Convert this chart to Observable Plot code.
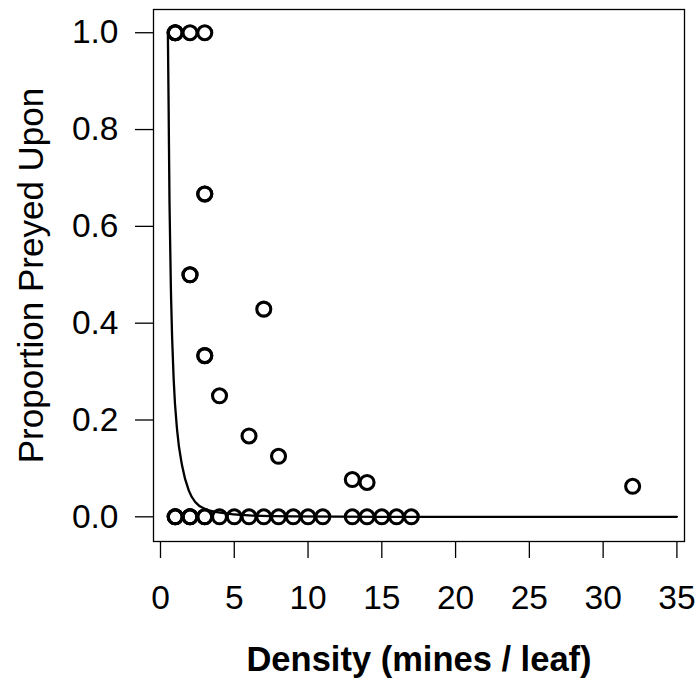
<!DOCTYPE html>
<html><head><meta charset="utf-8">
<script src="https://cdn.jsdelivr.net/npm/d3@7"></script>
<script src="https://cdn.jsdelivr.net/npm/@observablehq/plot@0.6"></script>
<style>body{margin:0;background:#fff;}</style>
</head><body><div id="chart"></div>
<script>
// Observed points: density (mines / leaf) and proportion preyed upon
const density = [1, 1, 1, 2, 3,
  3, 3, 2, 2, 7, 3, 3, 4, 6, 8, 13, 14, 32,
  1, 1, 1, 2, 2, 2, 3, 3, 4, 5, 6, 7, 8, 9, 10, 11, 13, 14, 15, 16, 17];
const proportion = [1, 1, 1, 1, 1,
  0.667, 0.667, 0.5, 0.5, 0.429, 0.333, 0.333, 0.25, 0.167, 0.125, 0.077, 0.071, 0.063,
  0, 0, 0, 0, 0, 0, 0, 0, 0, 0, 0, 0, 0, 0, 0, 0, 0, 0, 0, 0, 0];
// Fitted curve
const curveDensity = [0.5, 0.55, 0.61, 0.72, 0.9, 1.13, 1.47, 1.92, 2.37, 3.05, 4.18, 6, 9, 15, 35];
const curveProportion = [1.0, 0.85, 0.65, 0.45, 0.28, 0.178, 0.105, 0.054, 0.030, 0.016, 0.008, 0.003, 0.001, 0, 0];
const xTicks = [0, 5, 10, 15, 20, 25, 30, 35];
const yTicks = [0, 0.2, 0.4, 0.6, 0.8, 1.0];
const xLabel = "Density (mines / leaf)";
const yLabel = "Proportion Preyed Upon";

const points = density.map((d, i) => ({x: d, y: proportion[i]}));
const curve = curveDensity.map((d, i) => ({x: d, y: curveProportion[i]}));

const chart = Plot.plot({
  width: 699, height: 679,
  marginLeft: 153, marginRight: 15, marginTop: 9, marginBottom: 138,
  style: {fontFamily: "'Liberation Sans', Arial, sans-serif", fontSize: "33px", background: "#fff", color: "#000"},
  x: {domain: [-0.474, 35.515]},
  y: {domain: [-0.051, 1.048]},
  marks: [
    Plot.frame({stroke: "#000", strokeWidth: 1.3}),
    Plot.axisX({ticks: xTicks, tickSize: 17, tickPadding: 27, fontSize: 33.5, label: null, strokeWidth: 1.3}),
    Plot.axisY({ticks: yTicks, tickSize: 18, tickPadding: 17, tickFormat: d3.format(".1f"), fontSize: 33.5, label: null, strokeWidth: 1.3}),
    Plot.dot(points, {x: "x", y: "y", r: 7, stroke: "#000", strokeWidth: 3.1, fill: "none"}),
    Plot.line(curve, {x: "x", y: "y", stroke: "#000", strokeWidth: 2.3, curve: "monotone-x"}),
    Plot.text([xLabel], {frameAnchor: "bottom", dy: 129, lineAnchor: "bottom", textAnchor: "middle", fontWeight: "bold", fontSize: 34.5, text: d => d}),
    Plot.text([yLabel], {frameAnchor: "left", dx: -111, rotate: -90, lineAnchor: "bottom", textAnchor: "middle", fontSize: 35, text: d => d})
  ]
});
document.getElementById("chart").appendChild(chart);
</script>
</body></html>
